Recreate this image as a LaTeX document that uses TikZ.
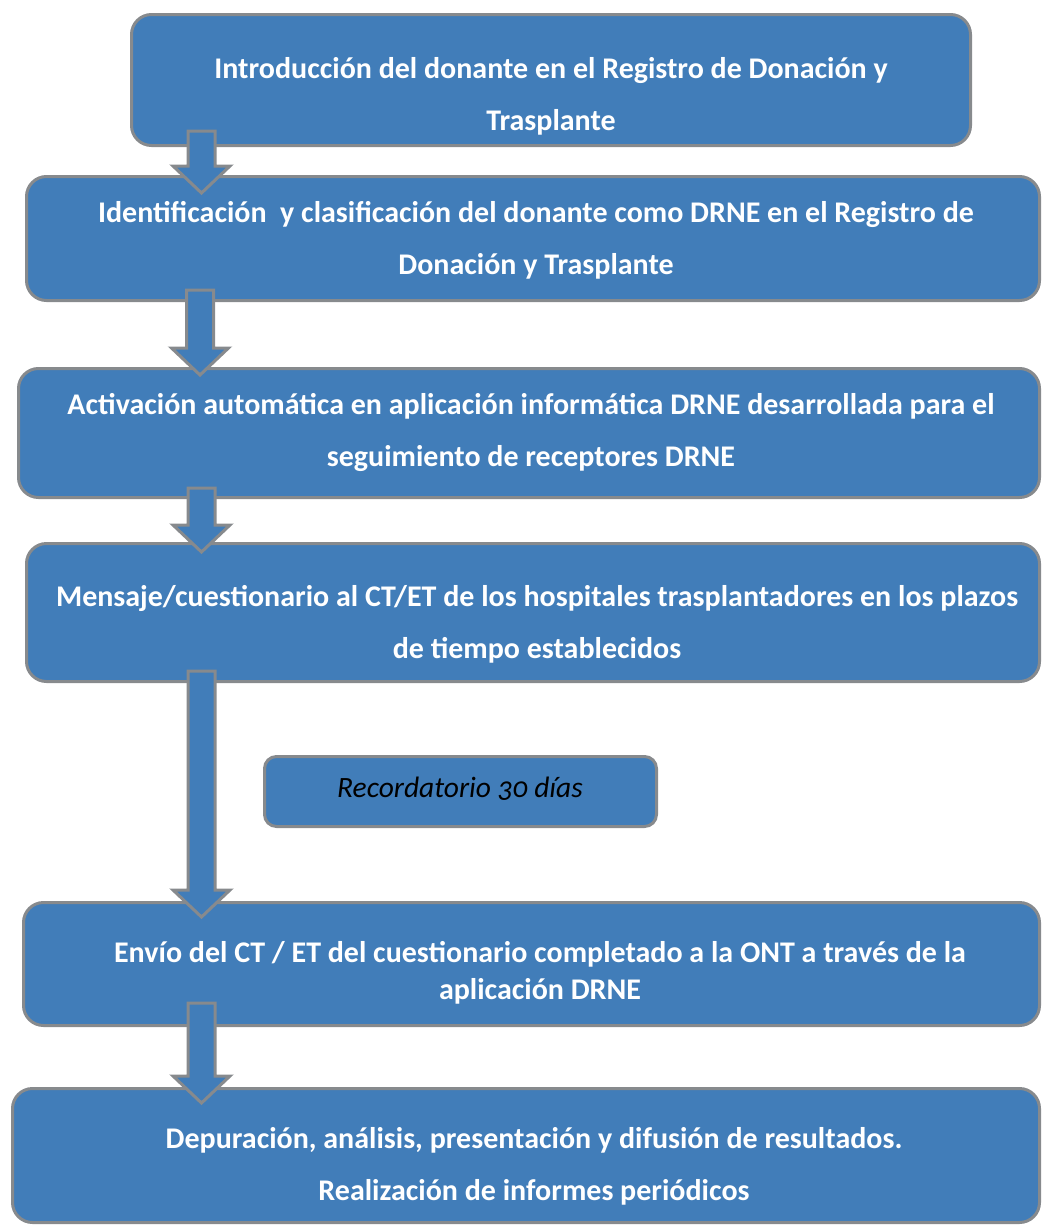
\documentclass[tikz,border=0pt]{standalone}
\usepackage{fontspec}
\setmainfont{Carlito}
\usetikzlibrary{calc}
\definecolor{boxblue}{RGB}{65,125,185}
\definecolor{boxgray}{RGB}{135,138,141}
\tikzset{
  flowbox/.style={draw=boxgray, fill=boxblue, line width=3pt, rounded corners=20pt, inner sep=0pt},
  smallbox/.style={draw=boxgray, fill=boxblue, line width=3pt, rounded corners=12pt, inner sep=0pt},
  boxtext/.style={text=white, align=center, inner sep=0pt, font=\fontsize{30}{52}\selectfont\bfseries},
  remtext/.style={text=black, align=center, inner sep=0pt, font=\fontsize{29.5}{34}\selectfont\itshape\addfontfeatures{Numbers=OldStyle}},
  blockarr/.style={draw=boxgray, fill=boxblue, line width=3pt, line join=miter}
}
% #1 from node, #2 to node, #3 x (px), #4 start above #1.south, #5 tip below #2.north
\newcommand\blockarrow[5]{%
  \path[blockarr] let \p1=(#1.south), \p2=(#2.north) in
    (#3pt-13.5pt,\y1+#4pt) -- (#3pt+13.5pt,\y1+#4pt) -- (#3pt+13.5pt,\y2-#5pt+27pt)
    -- (#3pt+28.5pt,\y2-#5pt+27pt) -- (#3pt,\y2-#5pt) -- (#3pt-28.5pt,\y2-#5pt+27pt)
    -- (#3pt-13.5pt,\y2-#5pt+27pt) -- cycle;}
\begin{document}
\begin{tikzpicture}[x=1pt,y=-1pt]
\useasboundingbox (0,0) rectangle (1043,1226);
% boxes
\node[flowbox, minimum width=839pt, minimum height=131pt] (b1) at (551,80) {};
\node[flowbox, minimum width=1013pt, minimum height=124pt] (b2) at (533,238.5) {};
\node[flowbox, minimum width=1021pt, minimum height=129pt] (b3) at (529,433) {};
\node[flowbox, minimum width=1013pt, minimum height=138pt] (b4) at (533,612.5) {};
\node[smallbox, minimum width=392pt, minimum height=70pt] (rem) at (460.5,791.5) {};
\node[flowbox, minimum width=1016pt, minimum height=123pt] (b5) at (531.5,964) {};
\node[flowbox, minimum width=1027pt, minimum height=134pt] (b6) at (526,1155.5) {};
% arrows
\blockarrow{b1}{b2}{201.5}{16}{18}
\blockarrow{b2}{b3}{200}{12}{8}
\blockarrow{b3}{b4}{201.5}{11}{10}
\blockarrow{b4}{b5}{201.5}{12}{16}
\blockarrow{b5}{b6}{201.5}{24}{16}
% texts
\node[boxtext] (t1) at (551,96) {Introducción del donante en el Registro de Donación y\\Trasplante};
\node[boxtext] (t2) at (536,240.5) {Identificación\ \ y clasificación del donante como DRNE en el Registro de\\Donación y Trasplante};
\node[boxtext] (t3) at (531,432.5) {Activación automática en aplicación informática DRNE desarrollada para el\\seguimiento de receptores DRNE};
\node[boxtext] (t4) at (537,624) {Mensaje/cuestionario al CT/ET de los hospitales trasplantadores en los plazos\\de tiempo establecidos};
\node[remtext] (tr) at (460,789) {Recordatorio 30 días};
\node[boxtext, font=\fontsize{30}{37}\selectfont\bfseries] (t5) at (540,972.5) {Envío del CT / ET del cuestionario completado a la ONT a través de la\\aplicación DRNE};
\node[boxtext] (t6) at (534,1166) {Depuración, análisis, presentación y difusión de resultados.\\Realización de informes periódicos};
\end{tikzpicture}
\end{document}
